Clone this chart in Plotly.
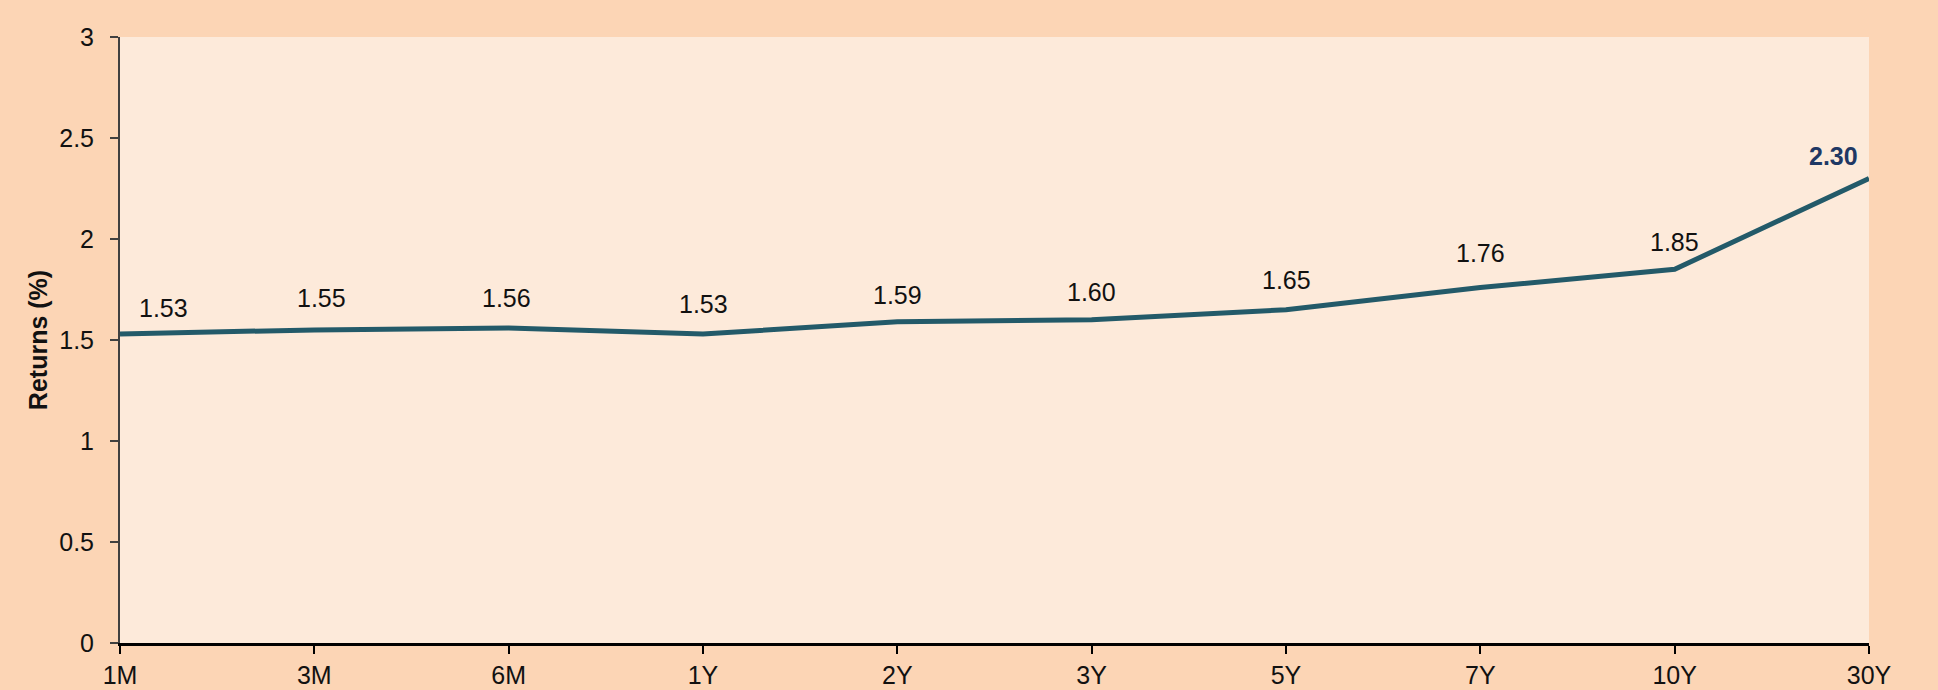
import plotly.graph_objects as go

tenors = ["1M", "3M", "6M", "1Y", "2Y", "3Y", "5Y", "7Y", "10Y", "30Y"]
returns = [1.53, 1.55, 1.56, 1.53, 1.59, 1.60, 1.65, 1.76, 1.85, 2.30]
y_ticks = [0, 0.5, 1, 1.5, 2, 2.5, 3]
y_ticktext = ["0", "0.5", "1", "1.5", "2", "2.5", "3"]

# label nudges (pixels): horizontal shift, vertical shift
label_xshift = [43, 7, -2, 0, 0, 0, 0, 0, 0, -36]
label_yshift = [26, 32, 30, 30, 27, 28, 30, 34, 27, 22]

FONT = "Liberation Sans, Arial, sans-serif"
FS = 25

fig = go.Figure()
fig.add_trace(go.Scatter(
    x=tenors, y=returns, mode="lines",
    line=dict(color="#235A69", width=5),
    cliponaxis=False, hoverinfo="x+y", showlegend=False,
))

for i, (t, v) in enumerate(zip(tenors, returns)):
    last = i == len(tenors) - 1
    fig.add_annotation(
        x=t, y=v, text=f"<b>{v:.2f}</b>" if last else f"{v:.2f}",
        showarrow=False, xshift=label_xshift[i], yshift=label_yshift[i],
        font=dict(family=FONT, size=FS, color="#1F3864" if last else "#111111"),
    )

fig.update_layout(
    width=1938, height=690,
    margin=dict(l=120, r=69, t=37, b=47, autoexpand=False),
    paper_bgcolor="#FCD5B5",
    plot_bgcolor="#FDEADA",
    font=dict(family=FONT, size=FS, color="#111111"),
)
fig.update_xaxes(
    type="category", range=[0, len(tenors) - 1], automargin=False,
    showgrid=False, zeroline=False,
    showline=True, linecolor="#000000", linewidth=2.5,
    ticks="outside", ticklen=8, tickwidth=2, tickcolor="#000000",
    tickfont=dict(family=FONT, size=FS, color="#111111"),
)
fig.update_yaxes(
    range=[0, 3], tickvals=y_ticks, ticktext=y_ticktext, automargin=False,
    showgrid=False, zeroline=False,
    showline=True, linecolor="#404040", linewidth=2,
    ticks="outside", ticklen=8, tickwidth=2, tickcolor="#404040",
    ticklabelstandoff=11,
    tickfont=dict(family=FONT, size=FS, color="#111111"),
    title=dict(text="<b>Returns (%)</b>", standoff=4,
               font=dict(family=FONT, size=FS, color="#111111")),
)

fig.write_html(
    "out.html",
    config={"displayModeBar": False},
    post_script="document.body.style.margin='0';document.body.style.overflow='hidden';",
)
